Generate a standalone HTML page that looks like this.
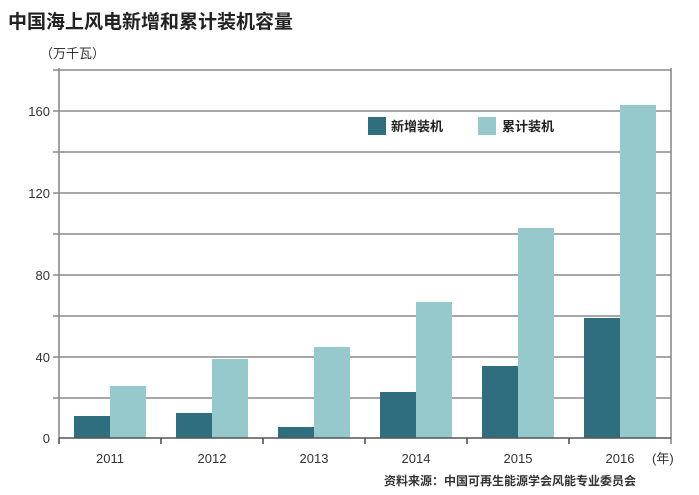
<!DOCTYPE html>
<html><head><meta charset="utf-8"><style>
body{margin:0;background:#fff;}
svg{display:block;font-family:"Liberation Sans","Noto Sans CJK SC",sans-serif;}
</style></head><body>
<svg width="699" height="495" viewBox="0 0 699 495">
<text x="8" y="28" font-size="19" font-weight="bold" fill="#222">中国海上风电新增和累计装机容量</text>
<text x="40" y="58" font-size="13" fill="#333">（万千瓦）</text>
<g stroke="#8a8a8a" stroke-width="1.6">
<line x1="53" y1="70" x2="671" y2="70"/>
<line x1="53" y1="111" x2="671" y2="111"/>
<line x1="53" y1="152" x2="671" y2="152"/>
<line x1="53" y1="193" x2="671" y2="193"/>
<line x1="53" y1="234" x2="671" y2="234"/>
<line x1="53" y1="275" x2="671" y2="275"/>
<line x1="53" y1="316" x2="671" y2="316"/>
<line x1="53" y1="357" x2="671" y2="357"/>
<line x1="53" y1="398" x2="671" y2="398"/>
<line x1="59" y1="68" x2="59" y2="438"/>
<line x1="671" y1="68" x2="671" y2="444"/>
</g>
<g fill="#2f6e7e">
<rect x="74" y="416" width="36" height="22"/>
<rect x="176" y="413" width="36" height="25"/>
<rect x="278" y="427" width="36" height="11"/>
<rect x="380" y="392" width="36" height="46"/>
<rect x="482" y="366" width="36" height="72"/>
<rect x="584" y="318" width="36" height="120"/>
</g>
<g fill="#96c9cc">
<rect x="110" y="386" width="36" height="52"/>
<rect x="212" y="359" width="36" height="79"/>
<rect x="314" y="347" width="36" height="91"/>
<rect x="416" y="302" width="36" height="136"/>
<rect x="518" y="228" width="36" height="210"/>
<rect x="620" y="105" width="36" height="333"/>
</g>
<g stroke="#555" stroke-width="1.6">
<line x1="59" y1="438" x2="671" y2="438"/>
<line x1="59" y1="438" x2="59" y2="444"/>
<line x1="161" y1="438" x2="161" y2="444"/>
<line x1="263" y1="438" x2="263" y2="444"/>
<line x1="365" y1="438" x2="365" y2="444"/>
<line x1="467" y1="438" x2="467" y2="444"/>
<line x1="569" y1="438" x2="569" y2="444"/>
</g>
<g font-size="13" fill="#333" text-anchor="end">
<text x="50" y="116">160</text>
<text x="50" y="198">120</text>
<text x="50" y="280">80</text>
<text x="50" y="362">40</text>
<text x="50" y="443">0</text>
</g>
<g font-size="13" fill="#333" text-anchor="middle">
<text x="110" y="463">2011</text>
<text x="212" y="463">2012</text>
<text x="314" y="463">2013</text>
<text x="416" y="463">2014</text>
<text x="518" y="463">2015</text>
<text x="620" y="463">2016</text>
</g>
<text x="652" y="463" font-size="13" fill="#333">(年)</text>
<text x="384" y="485" font-size="12" font-weight="bold" fill="#333">资料来源：中国可再生能源学会风能专业委员会</text>
<rect x="368" y="117" width="18" height="18" fill="#2f6e7e"/>
<text x="391" y="131" font-size="13" font-weight="bold" fill="#222">新增装机</text>
<rect x="478" y="117" width="18" height="18" fill="#96c9cc"/>
<text x="502" y="131" font-size="13" font-weight="bold" fill="#222">累计装机</text>
</svg>
</body></html>
